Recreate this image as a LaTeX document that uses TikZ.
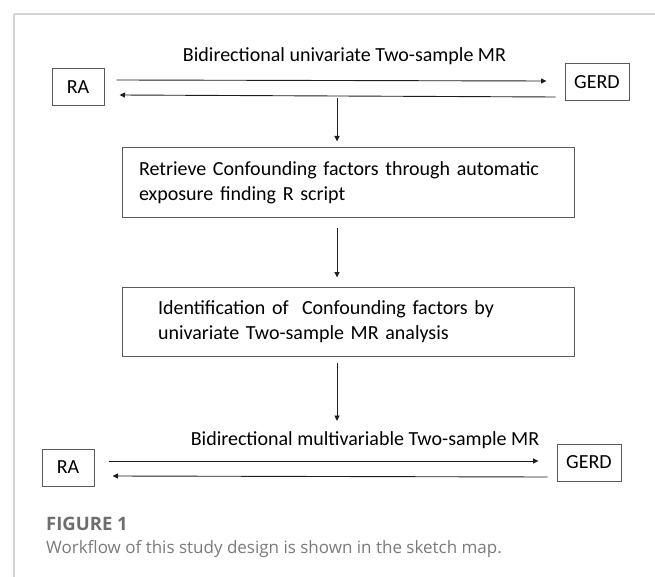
\documentclass[tikz,border=0pt]{standalone}
\usepackage{fontspec}
\setmainfont{Carlito}
\newfontfamily\captionfont{Open Sans}
\usetikzlibrary{arrows.meta, positioning, calc}
\definecolor{boxgrey}{HTML}{5a5a5a}
\definecolor{linegrey}{HTML}{1e1e1e}
\definecolor{framegrey}{HTML}{d4d4d4}
\definecolor{capgrey}{HTML}{7a7a7a}
\definecolor{figgrey}{HTML}{6e6e6e}
\tikzset{
  endbox/.style={rectangle, draw=boxgrey, line width=1pt, minimum height=37pt,
                 inner sep=0pt, font=\fontsize{20}{24}\selectfont},
  stepbox/.style={rectangle, draw=boxgrey, line width=1pt, minimum width=452pt,
                  align=left, font=\fontsize{20}{24.5}\selectfont},
  link/.style={-{Triangle[length=5.5pt,width=5pt]}, line width=0.9pt, draw=linegrey},
  linklabel/.style={font=\fontsize{20}{24}\selectfont, inner sep=0pt, anchor=base},
  frameline/.style={draw=framegrey, line width=1.6pt},
  figlabel/.style={font=\captionfont\bfseries\fontsize{18.5}{22}\selectfont, text=figgrey,
                   inner sep=0pt, anchor=base west},
  captext/.style={font=\captionfont\fontsize{17}{20}\selectfont, text=capgrey,
                  inner sep=0pt, anchor=base west},
}
\begin{document}
\begin{tikzpicture}[x=1pt, y=-1pt]
  \useasboundingbox (0,0) rectangle (655,577);

  % --- Frame ---
  \draw[frameline] (14,14) -- (655,14);
  \draw[frameline] (14,14) -- (14,577);

  % --- Univariate MR, RA <-> GERD ---
  \node[endbox, minimum width=52pt] (ra1) at (78,87.5) {RA};
  \node[endbox, minimum width=64pt] (gerd1) at (597,82.5) {GERD};
  \node[linklabel] (uni) at (344.5,62) {Bidirectional univariate Two-sample MR};
  \draw[link] ([xshift=12pt,yshift=7.5pt]ra1.east) -- ([xshift=-18pt,yshift=1.5pt]gerd1.west);
  \draw[link] ([xshift=-9pt,yshift=-14.5pt]gerd1.west) -- ([xshift=15pt,yshift=-7.5pt]ra1.east);

  % --- Confounder steps ---
  \node[stepbox, text width=418pt, inner xsep=17pt, minimum height=70pt] (retrieve) at (348,183)
    {Retrieve Confounding factors through automatic\\exposure finding R script};
  \node[stepbox, text width=380pt, inner xsep=36pt, minimum height=69pt] (identify) at (348,321.5)
    {Identification of\ \ Confounding factors by\\univariate Two-sample MR analysis};

  \coordinate (split) at (337,98);
  \coordinate (merge) at (337,421);
  \draw[link] (split) -- ([xshift=-11pt,yshift=6pt]retrieve.north);
  \draw[link] ([xshift=-11pt,yshift=-10pt]retrieve.south) -- ([xshift=-11pt,yshift=9pt]identify.north);
  \draw[link] ([xshift=-11pt,yshift=-6pt]identify.south) -- (merge);

  % --- Multivariable MR, RA <-> GERD ---
  \node[endbox, minimum width=52pt] (ra2) at (68,467.5) {RA};
  \node[endbox, minimum width=64pt] (gerd2) at (589,462.5) {GERD};
  \node[linklabel] (multi) at (365,445) {Bidirectional multivariable Two-sample MR};
  \draw[link] ([xshift=14pt,yshift=6.5pt]ra2.east) -- ([xshift=-18pt,yshift=1.5pt]gerd2.west);
  \draw[link] ([xshift=-9pt,yshift=-14.5pt]gerd2.west) -- ([xshift=18pt,yshift=-8.5pt]ra2.east);

  % --- Caption ---
  \node[figlabel] (fig) at (46,530) {FIGURE 1};
  \node[captext] (cap) at (46,553) {Workflow of this study design is shown in the sketch map.};
\end{tikzpicture}
\end{document}
